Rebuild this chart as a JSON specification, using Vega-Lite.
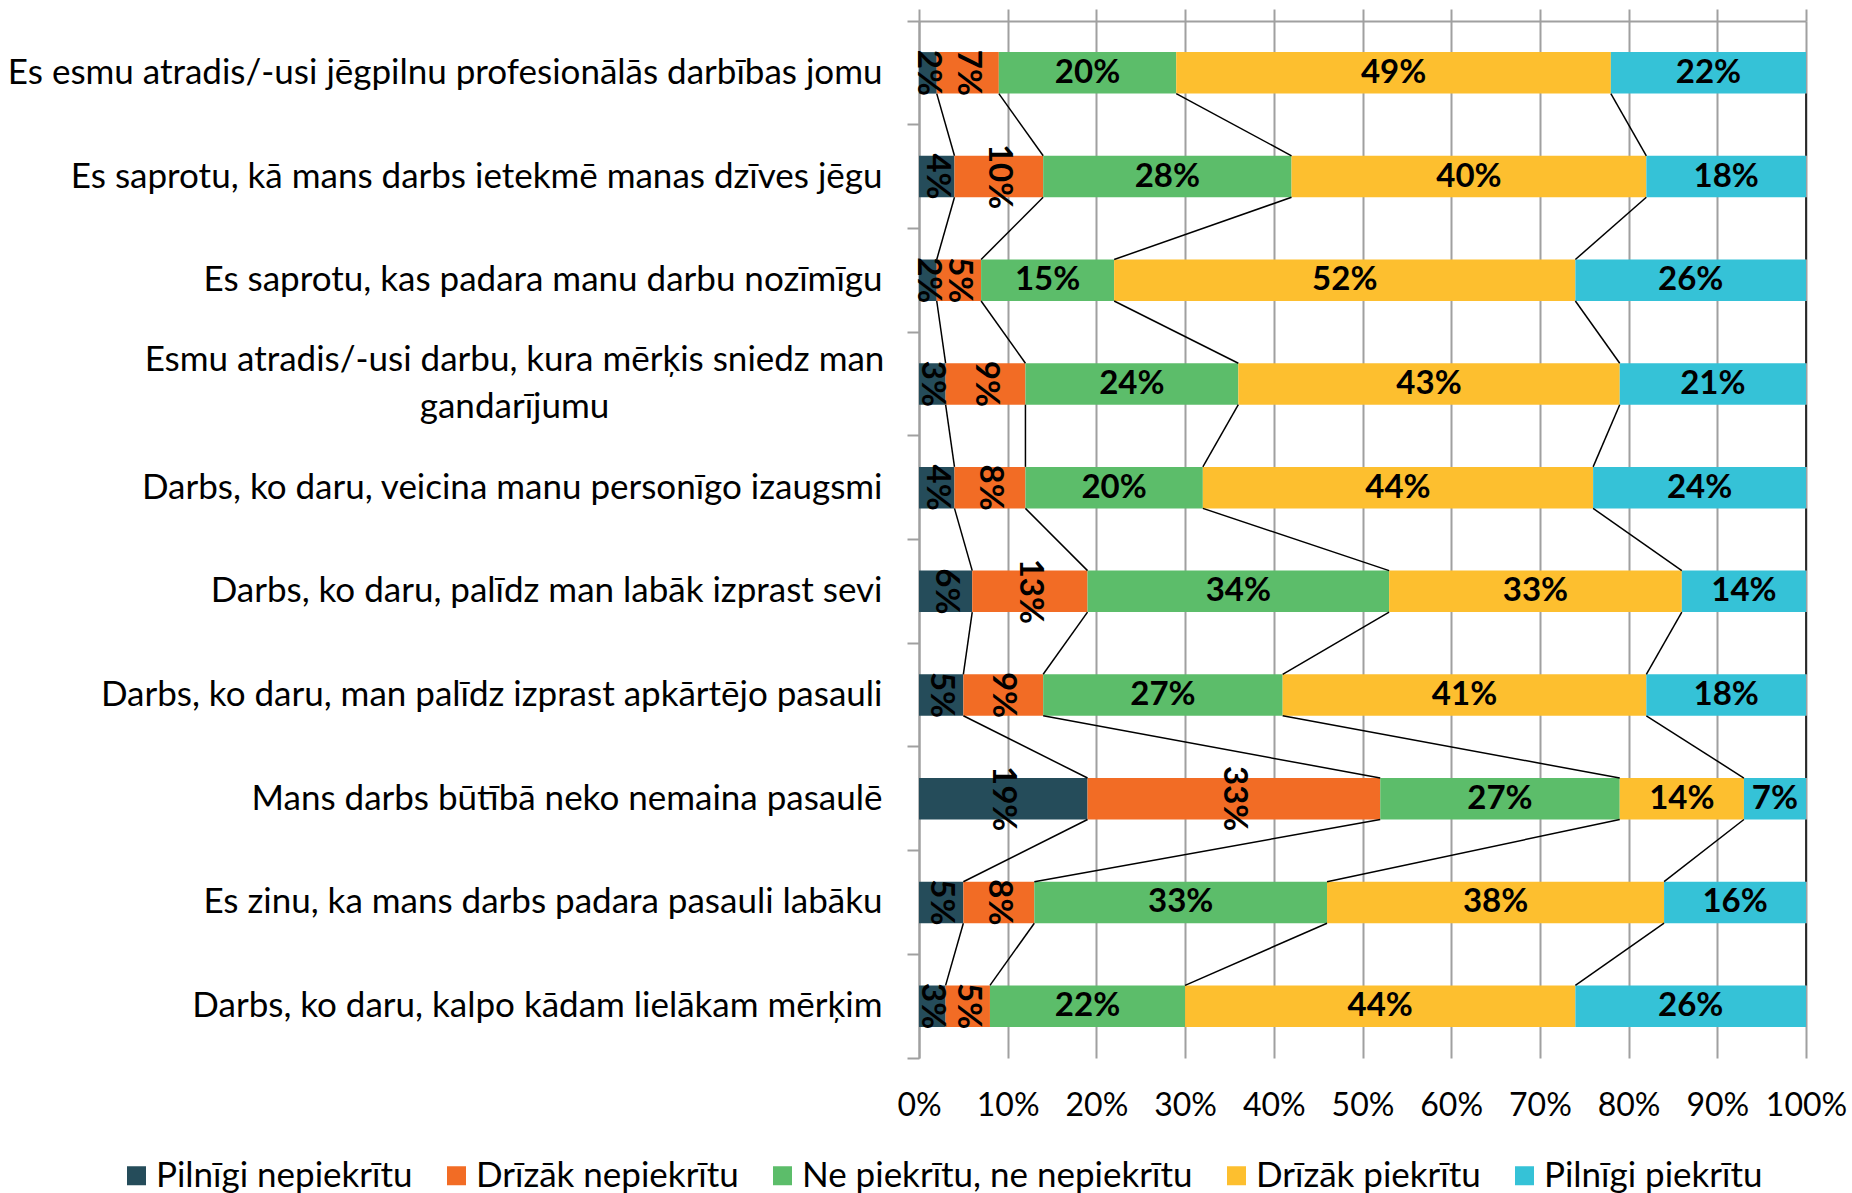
{
  "$schema": "https://vega.github.io/schema/vega-lite/v6.json",
  "width": 887,
  "height": 1037,
  "autosize": {"type": "none"},
  "padding": {"left": 919, "top": 21, "right": 46, "bottom": 135},
  "background": "white",
  "config": {"view": {"stroke": null}, "font": "Lato", "text": {"font": "Lato"}},
  "data": {"values": [
    {"i": 0, "q": "Es esmu atradis/-usi jēgpilnu profesionālās darbības jomu", "k": 1, "s": "Pilnīgi nepiekrītu", "v": 0.02},
    {"i": 0, "q": "Es esmu atradis/-usi jēgpilnu profesionālās darbības jomu", "k": 2, "s": "Drīzāk nepiekrītu", "v": 0.07},
    {"i": 0, "q": "Es esmu atradis/-usi jēgpilnu profesionālās darbības jomu", "k": 3, "s": "Ne piekrītu, ne nepiekrītu", "v": 0.20},
    {"i": 0, "q": "Es esmu atradis/-usi jēgpilnu profesionālās darbības jomu", "k": 4, "s": "Drīzāk piekrītu", "v": 0.49},
    {"i": 0, "q": "Es esmu atradis/-usi jēgpilnu profesionālās darbības jomu", "k": 5, "s": "Pilnīgi piekrītu", "v": 0.22},
    {"i": 1, "q": "Es saprotu, kā mans darbs ietekmē manas dzīves jēgu", "k": 1, "s": "Pilnīgi nepiekrītu", "v": 0.04},
    {"i": 1, "q": "Es saprotu, kā mans darbs ietekmē manas dzīves jēgu", "k": 2, "s": "Drīzāk nepiekrītu", "v": 0.10},
    {"i": 1, "q": "Es saprotu, kā mans darbs ietekmē manas dzīves jēgu", "k": 3, "s": "Ne piekrītu, ne nepiekrītu", "v": 0.28},
    {"i": 1, "q": "Es saprotu, kā mans darbs ietekmē manas dzīves jēgu", "k": 4, "s": "Drīzāk piekrītu", "v": 0.40},
    {"i": 1, "q": "Es saprotu, kā mans darbs ietekmē manas dzīves jēgu", "k": 5, "s": "Pilnīgi piekrītu", "v": 0.18},
    {"i": 2, "q": "Es saprotu, kas padara manu darbu nozīmīgu", "k": 1, "s": "Pilnīgi nepiekrītu", "v": 0.02},
    {"i": 2, "q": "Es saprotu, kas padara manu darbu nozīmīgu", "k": 2, "s": "Drīzāk nepiekrītu", "v": 0.05},
    {"i": 2, "q": "Es saprotu, kas padara manu darbu nozīmīgu", "k": 3, "s": "Ne piekrītu, ne nepiekrītu", "v": 0.15},
    {"i": 2, "q": "Es saprotu, kas padara manu darbu nozīmīgu", "k": 4, "s": "Drīzāk piekrītu", "v": 0.52},
    {"i": 2, "q": "Es saprotu, kas padara manu darbu nozīmīgu", "k": 5, "s": "Pilnīgi piekrītu", "v": 0.26},
    {"i": 3, "q": "Esmu atradis/-usi darbu, kura mērķis sniedz man gandarījumu", "k": 1, "s": "Pilnīgi nepiekrītu", "v": 0.03},
    {"i": 3, "q": "Esmu atradis/-usi darbu, kura mērķis sniedz man gandarījumu", "k": 2, "s": "Drīzāk nepiekrītu", "v": 0.09},
    {"i": 3, "q": "Esmu atradis/-usi darbu, kura mērķis sniedz man gandarījumu", "k": 3, "s": "Ne piekrītu, ne nepiekrītu", "v": 0.24},
    {"i": 3, "q": "Esmu atradis/-usi darbu, kura mērķis sniedz man gandarījumu", "k": 4, "s": "Drīzāk piekrītu", "v": 0.43},
    {"i": 3, "q": "Esmu atradis/-usi darbu, kura mērķis sniedz man gandarījumu", "k": 5, "s": "Pilnīgi piekrītu", "v": 0.21},
    {"i": 4, "q": "Darbs, ko daru, veicina manu personīgo izaugsmi", "k": 1, "s": "Pilnīgi nepiekrītu", "v": 0.04},
    {"i": 4, "q": "Darbs, ko daru, veicina manu personīgo izaugsmi", "k": 2, "s": "Drīzāk nepiekrītu", "v": 0.08},
    {"i": 4, "q": "Darbs, ko daru, veicina manu personīgo izaugsmi", "k": 3, "s": "Ne piekrītu, ne nepiekrītu", "v": 0.20},
    {"i": 4, "q": "Darbs, ko daru, veicina manu personīgo izaugsmi", "k": 4, "s": "Drīzāk piekrītu", "v": 0.44},
    {"i": 4, "q": "Darbs, ko daru, veicina manu personīgo izaugsmi", "k": 5, "s": "Pilnīgi piekrītu", "v": 0.24},
    {"i": 5, "q": "Darbs, ko daru, palīdz man labāk izprast sevi", "k": 1, "s": "Pilnīgi nepiekrītu", "v": 0.06},
    {"i": 5, "q": "Darbs, ko daru, palīdz man labāk izprast sevi", "k": 2, "s": "Drīzāk nepiekrītu", "v": 0.13},
    {"i": 5, "q": "Darbs, ko daru, palīdz man labāk izprast sevi", "k": 3, "s": "Ne piekrītu, ne nepiekrītu", "v": 0.34},
    {"i": 5, "q": "Darbs, ko daru, palīdz man labāk izprast sevi", "k": 4, "s": "Drīzāk piekrītu", "v": 0.33},
    {"i": 5, "q": "Darbs, ko daru, palīdz man labāk izprast sevi", "k": 5, "s": "Pilnīgi piekrītu", "v": 0.14},
    {"i": 6, "q": "Darbs, ko daru, man palīdz izprast apkārtējo pasauli", "k": 1, "s": "Pilnīgi nepiekrītu", "v": 0.05},
    {"i": 6, "q": "Darbs, ko daru, man palīdz izprast apkārtējo pasauli", "k": 2, "s": "Drīzāk nepiekrītu", "v": 0.09},
    {"i": 6, "q": "Darbs, ko daru, man palīdz izprast apkārtējo pasauli", "k": 3, "s": "Ne piekrītu, ne nepiekrītu", "v": 0.27},
    {"i": 6, "q": "Darbs, ko daru, man palīdz izprast apkārtējo pasauli", "k": 4, "s": "Drīzāk piekrītu", "v": 0.41},
    {"i": 6, "q": "Darbs, ko daru, man palīdz izprast apkārtējo pasauli", "k": 5, "s": "Pilnīgi piekrītu", "v": 0.18},
    {"i": 7, "q": "Mans darbs būtībā neko nemaina pasaulē", "k": 1, "s": "Pilnīgi nepiekrītu", "v": 0.19},
    {"i": 7, "q": "Mans darbs būtībā neko nemaina pasaulē", "k": 2, "s": "Drīzāk nepiekrītu", "v": 0.33},
    {"i": 7, "q": "Mans darbs būtībā neko nemaina pasaulē", "k": 3, "s": "Ne piekrītu, ne nepiekrītu", "v": 0.27},
    {"i": 7, "q": "Mans darbs būtībā neko nemaina pasaulē", "k": 4, "s": "Drīzāk piekrītu", "v": 0.14},
    {"i": 7, "q": "Mans darbs būtībā neko nemaina pasaulē", "k": 5, "s": "Pilnīgi piekrītu", "v": 0.07},
    {"i": 8, "q": "Es zinu, ka mans darbs padara pasauli labāku", "k": 1, "s": "Pilnīgi nepiekrītu", "v": 0.05},
    {"i": 8, "q": "Es zinu, ka mans darbs padara pasauli labāku", "k": 2, "s": "Drīzāk nepiekrītu", "v": 0.08},
    {"i": 8, "q": "Es zinu, ka mans darbs padara pasauli labāku", "k": 3, "s": "Ne piekrītu, ne nepiekrītu", "v": 0.33},
    {"i": 8, "q": "Es zinu, ka mans darbs padara pasauli labāku", "k": 4, "s": "Drīzāk piekrītu", "v": 0.38},
    {"i": 8, "q": "Es zinu, ka mans darbs padara pasauli labāku", "k": 5, "s": "Pilnīgi piekrītu", "v": 0.16},
    {"i": 9, "q": "Darbs, ko daru, kalpo kādam lielākam mērķim", "k": 1, "s": "Pilnīgi nepiekrītu", "v": 0.03},
    {"i": 9, "q": "Darbs, ko daru, kalpo kādam lielākam mērķim", "k": 2, "s": "Drīzāk nepiekrītu", "v": 0.05},
    {"i": 9, "q": "Darbs, ko daru, kalpo kādam lielākam mērķim", "k": 3, "s": "Ne piekrītu, ne nepiekrītu", "v": 0.22},
    {"i": 9, "q": "Darbs, ko daru, kalpo kādam lielākam mērķim", "k": 4, "s": "Drīzāk piekrītu", "v": 0.44},
    {"i": 9, "q": "Darbs, ko daru, kalpo kādam lielākam mērķim", "k": 5, "s": "Pilnīgi piekrītu", "v": 0.26}
  ]},
  "transform": [
    {"stack": "v", "groupby": ["q"], "sort": [{"field": "k"}], "as": ["x0", "x1"], "offset": "normalize"},
    {"calculate": "(datum.x0 + datum.x1) / 2", "as": "xm"}
  ],
  "layer": [
    {
      "mark": {"type": "bar", "height": {"band": 0.4}},
      "encoding": {
        "y": {
          "field": "q", "type": "nominal",
          "scale": {"domain": [
            "Es esmu atradis/-usi jēgpilnu profesionālās darbības jomu",
            "Es saprotu, kā mans darbs ietekmē manas dzīves jēgu",
            "Es saprotu, kas padara manu darbu nozīmīgu",
            "Esmu atradis/-usi darbu, kura mērķis sniedz man gandarījumu",
            "Darbs, ko daru, veicina manu personīgo izaugsmi",
            "Darbs, ko daru, palīdz man labāk izprast sevi",
            "Darbs, ko daru, man palīdz izprast apkārtējo pasauli",
            "Mans darbs būtībā neko nemaina pasaulē",
            "Es zinu, ka mans darbs padara pasauli labāku",
            "Darbs, ko daru, kalpo kādam lielākam mērķim"
          ], "paddingInner": 0, "paddingOuter": 0},
          "axis": {
            "orient": "left", "title": null, "grid": false,
            "domain": true, "domainColor": "#A0A0A0", "domainWidth": 2,
            "ticks": true, "tickColor": "#A0A0A0", "tickWidth": 2, "tickSize": 12,
            "bandPosition": 1, "tickExtra": true,
            "labelFont": "Lato", "labelFontSize": 35, "labelColor": "black", "labelLimit": 1200,
            "labelBaseline": "middle", "labelPadding": 25, "labelAlign": "right",
            "labelExpr": "datum.value == 'Esmu atradis/-usi darbu, kura mērķis sniedz man gandarījumu' ? '' : datum.label"
          }
        },
        "x": {
          "field": "x0", "type": "quantitative",
          "scale": {"domain": [0, 1], "nice": false},
          "axis": {
            "orient": "top", "title": null, "labels": false,
            "values": [0, 0.1, 0.2, 0.3, 0.4, 0.5, 0.6, 0.7, 0.8, 0.9, 1],
            "ticks": true, "tickSize": 12, "tickColor": "#A0A0A0", "tickWidth": 2,
            "domain": true, "domainColor": "#A0A0A0", "domainWidth": 2,
            "grid": true, "gridColor": "#A0A0A0", "gridWidth": 2
          }
        },
        "x2": {"field": "x1"},
        "color": {
          "field": "s", "type": "nominal",
          "scale": {
            "domain": ["Pilnīgi nepiekrītu", "Drīzāk nepiekrītu", "Ne piekrītu, ne nepiekrītu", "Drīzāk piekrītu", "Pilnīgi piekrītu"],
            "range": ["#254C5A", "#F26C25", "#5CBD6A", "#FDBF2F", "#35C2D7"]
          },
          "legend": {
            "orient": "none", "legendX": -800, "legendY": 1137,
            "direction": "horizontal", "columns": 5, "title": null,
            "symbolType": "square", "symbolSize": 361, "symbolStrokeWidth": 0,
            "labelFont": "Lato", "labelFontSize": 35, "labelColor": "black", "labelLimit": 1000,
            "labelOffset": 2, "columnPadding": 26
          }
        }
      }
    },
    {
      "transform": [
        {"window": [{"op": "lead", "field": "x1", "as": "nx"}, {"op": "lead", "field": "q", "as": "nq"}], "groupby": ["k"], "sort": [{"field": "i"}]},
        {"filter": "datum.nq != null"}
      ],
      "mark": {"type": "rule", "color": "black", "strokeWidth": 1.5},
      "encoding": {
        "y": {"field": "q", "type": "nominal", "bandPosition": 0.7, "axis": null},
        "y2": {"field": "nq", "bandPosition": 0.3},
        "x": {"field": "x1", "type": "quantitative", "scale": {"domain": [0, 1], "nice": false}, "axis": null},
        "x2": {"field": "nx"}
      }
    },
    {
      "transform": [{"filter": "datum.k > 2"}],
      "mark": {"type": "text", "font": "Lato", "fontWeight": "bold", "fontSize": 33, "color": "black", "baseline": "middle", "align": "center"},
      "encoding": {
        "y": {
          "field": "q", "type": "nominal",
          "axis": {
            "orient": "left", "title": null, "grid": false, "domain": false, "ticks": false, "tickSize": 0,
            "values": ["Esmu atradis/-usi darbu, kura mērķis sniedz man gandarījumu"],
            "labelFont": "Lato", "labelFontSize": 35, "labelColor": "black", "labelLimit": 1200,
            "labelBaseline": "middle", "labelLineHeight": 47, "labelPadding": 405, "labelAlign": "center",
            "labelOffset": -23.5,
            "labelExpr": "['Esmu atradis/-usi darbu, kura mērķis sniedz man', 'gandarījumu']"
          }
        },
        "x": {
          "field": "xm", "type": "quantitative",
          "scale": {"domain": [0, 1], "nice": false},
          "axis": {
            "orient": "bottom", "title": null, "format": ".0%",
            "values": [0, 0.1, 0.2, 0.3, 0.4, 0.5, 0.6, 0.7, 0.8, 0.9, 1],
            "ticks": false, "tickSize": 0, "domain": false, "grid": false,
            "labelFont": "Lato", "labelFontSize": 32, "labelColor": "black",
            "labelPadding": 32, "labelFlush": false, "labelOverlap": false
          }
        },
        "text": {"field": "v", "type": "quantitative", "format": ".0%"}
      }
    },
    {
      "transform": [{"filter": "datum.k <= 2"}],
      "mark": {"type": "text", "font": "Lato", "fontWeight": "bold", "fontSize": 33, "color": "black", "baseline": "middle", "align": "center", "angle": 90},
      "encoding": {
        "y": {"field": "q", "type": "nominal", "axis": null},
        "x": {"field": "xm", "type": "quantitative", "scale": {"domain": [0, 1], "nice": false}, "axis": null},
        "text": {"field": "v", "type": "quantitative", "format": ".0%"}
      }
    }
  ],
  "resolve": {"axis": {"x": "independent", "y": "independent"}}
}
